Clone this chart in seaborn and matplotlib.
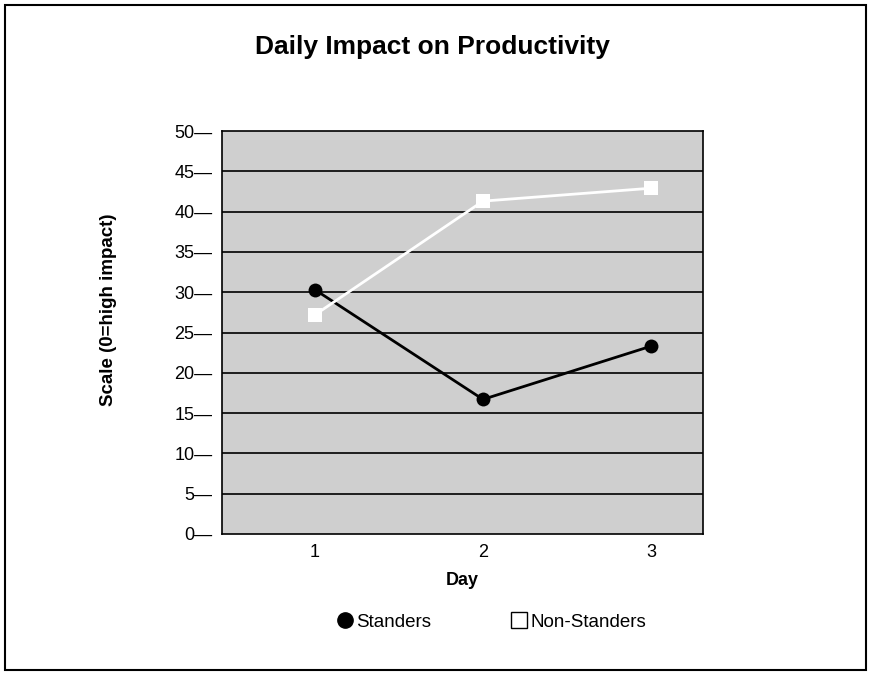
import matplotlib
matplotlib.use("Agg")
import matplotlib.pyplot as plt
from matplotlib.lines import Line2D
from matplotlib.patches import Rectangle
import seaborn as sns
import pandas as pd

days = [1, 2, 3]
standers = [30.3, 16.7, 23.3]
non_standers = [27.2, 41.3, 42.9]
y_ticks = [0, 5, 10, 15, 20, 25, 30, 35, 40, 45, 50]

df = pd.DataFrame({
    "Day": days * 2,
    "Value": standers + non_standers,
    "Group": ["Standers"] * 3 + ["Non-Standers"] * 3,
})

sns.set_style("white")
plt.rcParams['font.family'] = ['Liberation Sans', 'DejaVu Sans']
plt.rcParams['text.color'] = 'black'
plt.rcParams['axes.labelcolor'] = 'black'
plt.rcParams['xtick.color'] = 'black'
plt.rcParams['ytick.color'] = 'black'

fig = plt.figure(figsize=(8.71, 6.75), dpi=100)
ax = fig.add_axes([222 / 871, 1 - 534 / 675, (703 - 222) / 871, (534 - 131) / 675])
ax.set_facecolor("#cfcfcf")

sns.lineplot(data=df, x="Day", y="Value", hue="Group", style="Group",
             palette={"Standers": "black", "Non-Standers": "white"},
             markers={"Standers": "o", "Non-Standers": "s"},
             dashes=False, markersize=10, linewidth=2, markeredgewidth=0,
             legend=False, ax=ax, zorder=3)

ax.set_ylim(0, 50)
ax.set_xlim(0.446, 3.31)
ax.set_xticks(days)
ax.set_xticklabels([str(d) for d in days], fontsize=13)
ax.set_yticks(y_ticks)
ax.set_yticklabels([f"{t}\u2014" for t in y_ticks], fontsize=13)
ax.tick_params(axis="y", length=0, pad=7)
ax.tick_params(axis="x", length=0, pad=7)
for t in y_ticks[1:-1]:
    ax.axhline(t, color="black", linewidth=1.2, zorder=1)
for s in ax.spines.values():
    s.set_color("black")
    s.set_linewidth(1.2)

ax.set_xlabel("Day", fontsize=13, fontweight="bold", labelpad=8)
ax.set_ylabel("")
fig.text(108 / 871, 1 - 310 / 675, "Scale (0=high impact)", ha="center", va="center",
         rotation=90, fontsize=13.5, fontweight="bold")
fig.text(432 / 871, 1 - 47 / 675, "Daily Impact on Productivity", ha="center", va="center",
         fontsize=19, fontweight="bold")

handles = [
    Line2D([], [], marker="o", color="black", linestyle="none", markersize=11),
    Line2D([], [], marker="s", markerfacecolor="white", markeredgecolor="black",
           linestyle="none", markersize=12, markeredgewidth=1),
]
fig.legend(handles, ["Standers", "Non-Standers"], loc="center",
           bbox_to_anchor=(491 / 871, 1 - 622 / 675), ncol=2, frameon=False,
           fontsize=13.5, handletextpad=0.1, columnspacing=4.2, handlelength=1)

fig.patches.append(Rectangle((5 / 871, 5 / 675), 861 / 871, 665 / 675, transform=fig.transFigure,
                             fill=False, edgecolor="black", linewidth=1.5))

fig.savefig("out.png", dpi=100)
